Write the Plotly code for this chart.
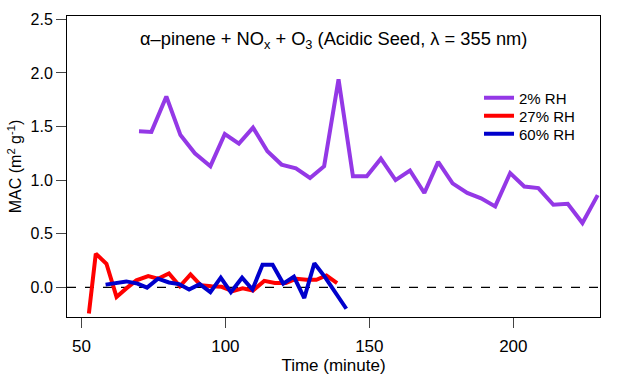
import plotly.graph_objects as go

# 2% RH
t_2 = [70.0, 74.3, 79.5, 84.4, 89.4, 94.8, 99.8, 104.7, 109.6, 114.6, 119.5, 124.5, 129.4, 134.3,
       139.3, 144.3, 149.1, 154.0, 159.1, 164.1, 169.1, 173.9, 178.9, 184.0, 188.8, 193.7, 198.9,
       203.8, 208.7, 213.9, 218.9, 224.0, 229.3]
mac_2 = [1.455, 1.45, 1.78, 1.42, 1.25, 1.13, 1.43, 1.34, 1.49, 1.27, 1.145, 1.11, 1.02, 1.13,
         1.94, 1.035, 1.035, 1.20, 1.00, 1.09, 0.88, 1.17, 0.97, 0.88, 0.83, 0.755, 1.066,
         0.94, 0.926, 0.77, 0.78, 0.60, 0.86]

# 27% RH
t_27 = [52.6, 55.0, 58.7, 62.2, 65.6, 69.1, 73.2, 76.6, 80.4, 84.2, 87.9, 91.4, 95.2, 98.7,
        102.5, 106.0, 109.6, 113.5, 117.2, 121.0, 124.7, 128.2, 131.6, 135.1, 138.8]
mac_27 = [-0.245, 0.314, 0.22, -0.09, -0.01, 0.065, 0.105, 0.08, 0.13, 0.01, 0.12, 0.02, 0.01, 0.005,
          -0.035, -0.01, -0.03, 0.06, 0.04, 0.04, 0.08, 0.07, 0.07, 0.11, 0.04]

# 60% RH
t_60 = [58.4, 62.2, 65.6, 69.5, 72.8, 76.6, 80.4, 83.9, 87.4, 91.1, 94.8, 98.4, 101.9, 105.8,
        109.4, 112.9, 116.4, 120.1, 123.8, 127.4, 130.9, 134.6, 138.4, 142.0]
mac_60 = [0.025, 0.045, 0.055, 0.035, -0.003, 0.08, 0.045, 0.03, -0.02, 0.03, -0.045, 0.09, -0.045, 0.09,
          -0.02, 0.21, 0.21, 0.035, 0.10, -0.10, 0.225, 0.095, -0.055, -0.20]

x_ticks = [50, 100, 150, 200]
y_ticks = [0.0, 0.5, 1.0, 1.5, 2.0, 2.5]
y_tick_text = ["0.0", "0.5", "1.0", "1.5", "2.0", "2.5"]

FONT = "Liberation Sans, Arial, sans-serif"

fig = go.Figure()
fig.add_trace(go.Scatter(x=t_2, y=mac_2, mode="lines", name="2% RH", legend="legend",
                         line=dict(color="#9438E6", width=4)))
fig.add_trace(go.Scatter(x=t_27, y=mac_27, mode="lines", name="27% RH", legend="legend2",
                         line=dict(color="#FF0000", width=4)))
fig.add_trace(go.Scatter(x=t_60, y=mac_60, mode="lines", name="60% RH", legend="legend3",
                         line=dict(color="#0000CC", width=4)))

fig.add_shape(type="line", xref="paper", x0=0, x1=1, yref="y", y0=0, y1=0,
              line=dict(color="black", width=1.2, dash="dash"), layer="below")

fig.add_annotation(text="α–pinene + NO<sub>x</sub> + O<sub>3</sub> (Acidic Seed, λ = 355 nm)",
                   xref="paper", yref="paper", x=0.5, y=0.92, xanchor="center", yanchor="middle",
                   showarrow=False, font=dict(family=FONT, size=18.3, color="black"))

leg_common = dict(xanchor="left", yanchor="middle", bgcolor="rgba(0,0,0,0)",
                  font=dict(family=FONT, size=15, color="black"))

fig.update_layout(
    width=630, height=375,
    margin=dict(l=67, r=30, t=16, b=58, autoexpand=False),
    plot_bgcolor="white", paper_bgcolor="white",
    font=dict(family=FONT, size=16, color="black"),
    showlegend=True,
    legend=dict(x=0.773, y=0.7276, **leg_common),
    legend2=dict(x=0.773, y=0.6678, **leg_common),
    legend3=dict(x=0.773, y=0.608, **leg_common),
    xaxis=dict(range=[45, 230.1], tickvals=x_ticks, ticks="outside", ticklen=10, tickwidth=1,
               showline=True, linecolor="black", linewidth=1, mirror=True, showgrid=False,
               zeroline=False, automargin=False, ticklabelstandoff=4,
               title=dict(text="Time (minute)", standoff=0, font=dict(size=17)),
               tickfont=dict(size=17)),
    yaxis=dict(range=[-0.277, 2.531], tickvals=y_ticks, ticktext=y_tick_text, ticks="outside",
               ticklen=10, tickwidth=1, showline=True, linecolor="black", linewidth=1, mirror=True,
               showgrid=False, zeroline=False, automargin=False,
               title=dict(text="MAC (m<sup>2</sup> g<sup>-1</sup>)", standoff=4, font=dict(size=16)),
               tickfont=dict(size=16)),
)

fig.write_html("out.html", config={"displayModeBar": False},
               post_script="document.body.style.margin='0';document.body.style.overflow='hidden';")
